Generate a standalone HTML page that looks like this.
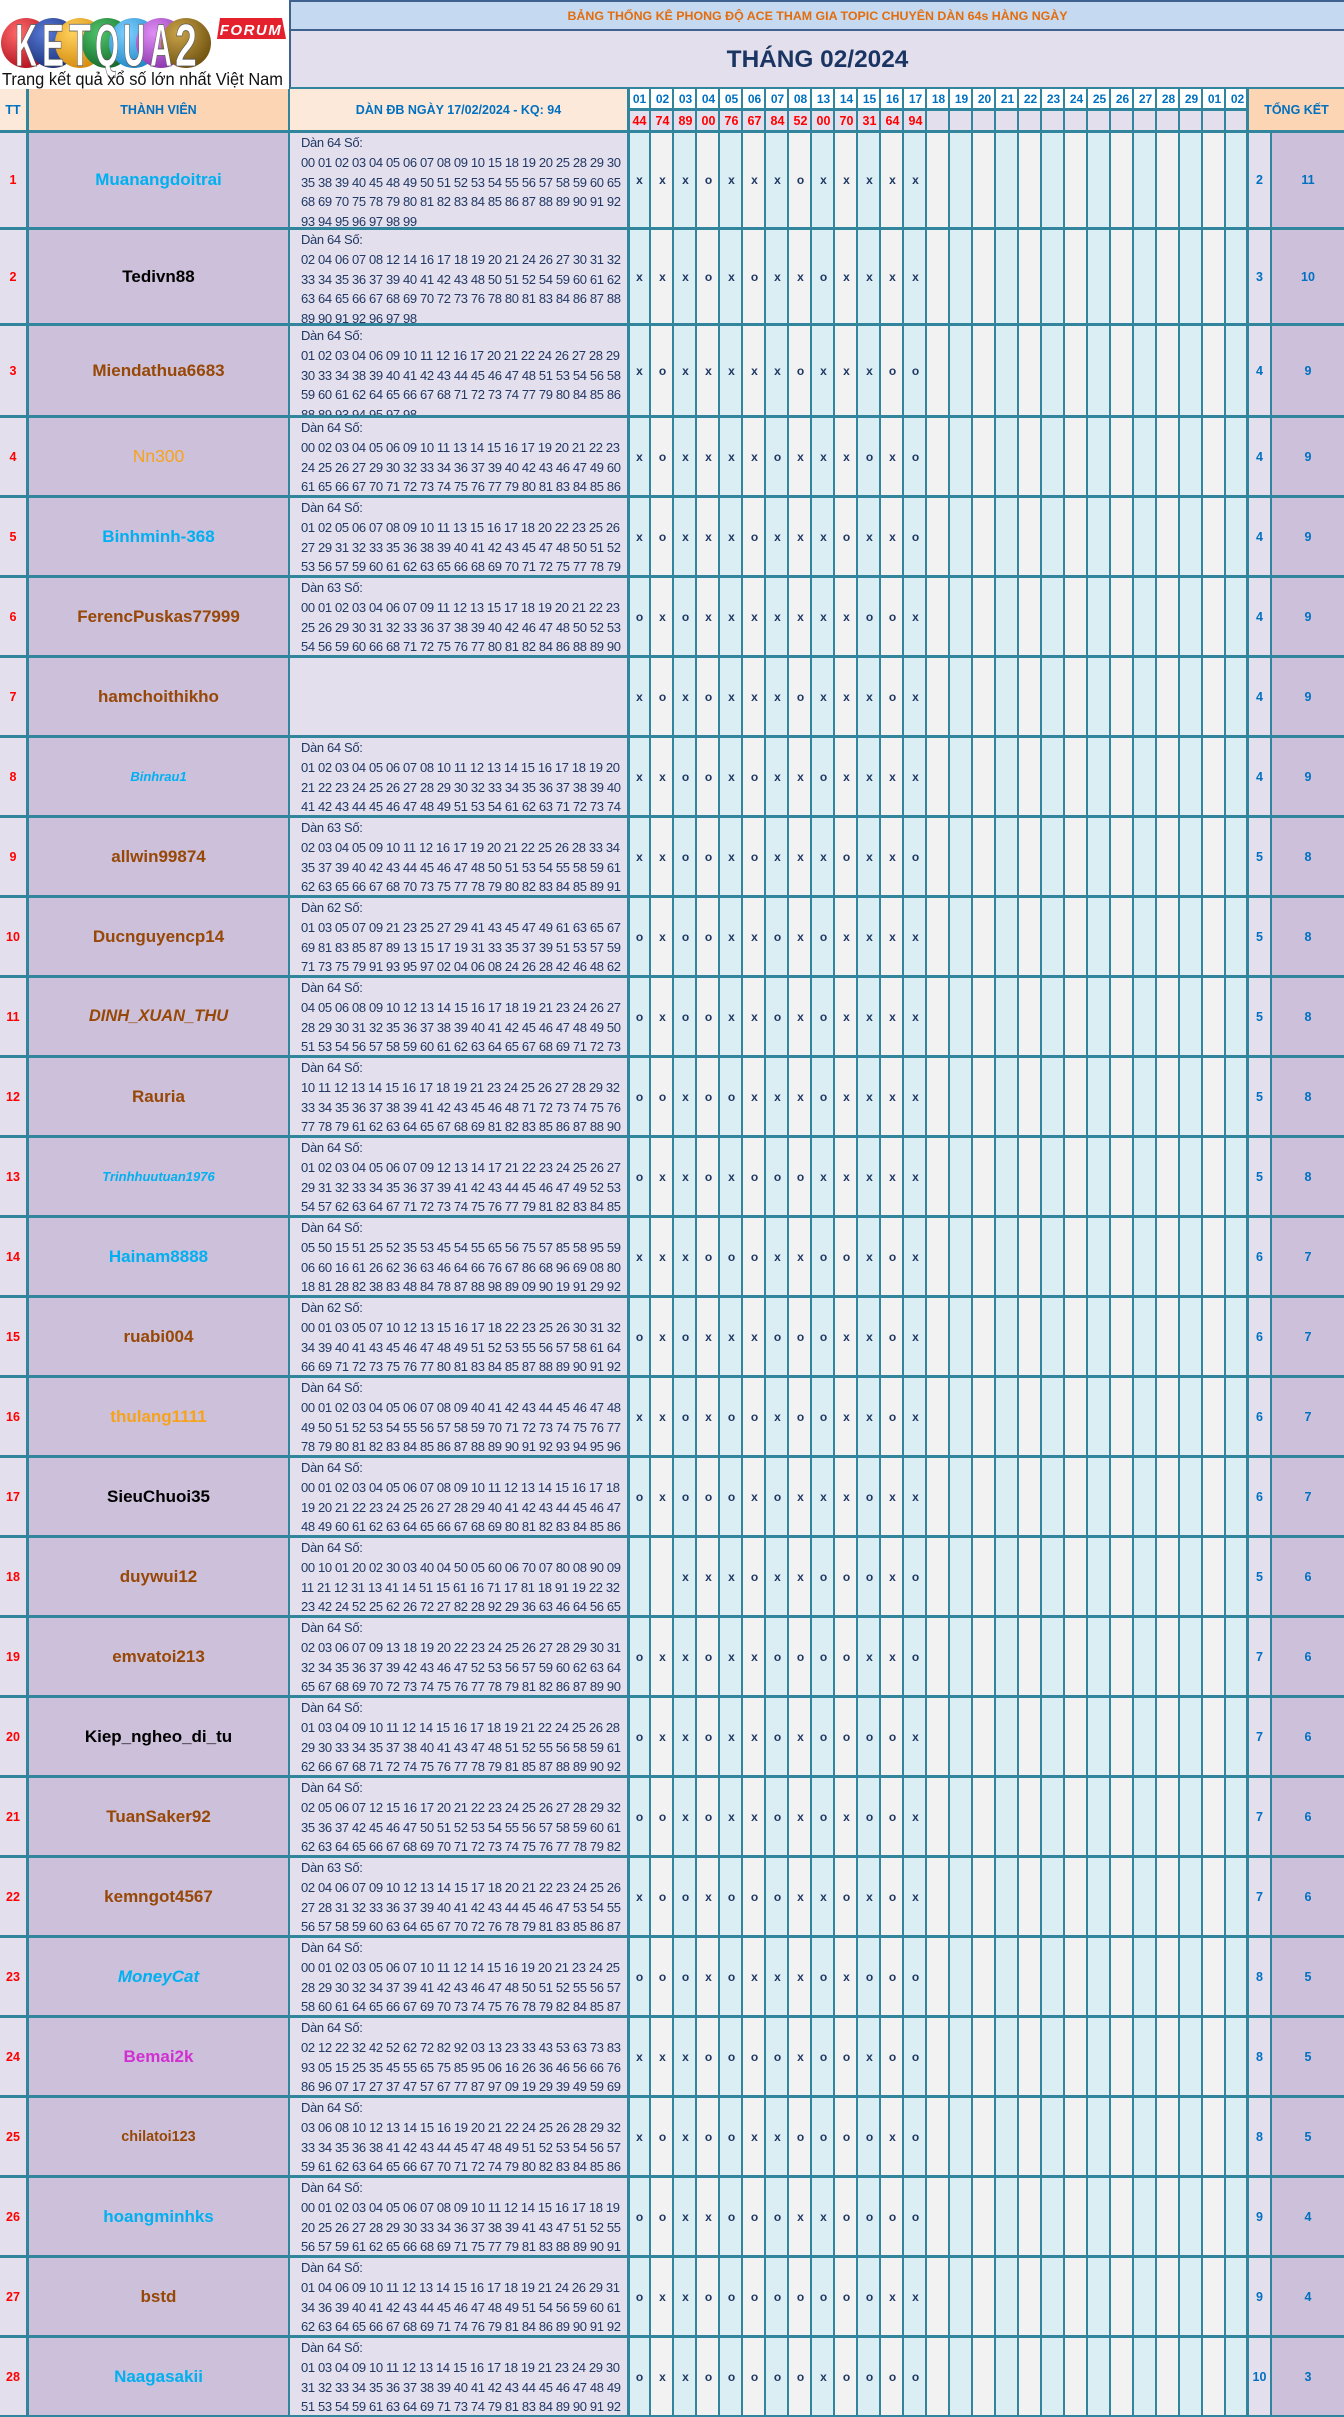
<!DOCTYPE html>
<html style="margin:0;width:1344px;height:2417px;overflow:hidden"><head><meta charset="utf-8">
<style>
*{box-sizing:border-box}
body{margin:0;width:1344px;height:2417px;position:relative;overflow:hidden;background:#fff;font-family:"Liberation Sans",sans-serif}
.a{position:absolute}
.h{position:absolute;left:0;width:1344px;height:3px;background:#31859C}
.v{position:absolute;top:88px;height:2329px;background:#31859C}
.r{position:absolute;left:0;width:1344px}
.r>div{position:absolute;top:0;height:100%;display:flex;align-items:center;justify-content:center;white-space:nowrap}
.t{left:0;width:26px;color:#f00;font-weight:bold;font-size:12.5px}
.n{left:29px;width:259px;font-weight:bold;font-size:17px}
.r>.d{left:301px;width:326px;display:block;font-size:13px;letter-spacing:-0.36px;line-height:19.75px;color:#1F3864;overflow:hidden}
.r>.m{left:628px;width:299px;justify-content:flex-start}
.m b{display:inline-block;width:23px;text-align:center;font-size:12px;color:#1F3864}
.c{left:1249px;width:21px;color:#0070C0;font-weight:bold;font-size:12.5px}
.k{left:1272px;width:72px;color:#0070C0;font-weight:bold;font-size:12.5px}
.B{color:#00B0F0}.W{color:#974706}.K{color:#000}.O{color:#F7A21B}
.hd{position:absolute;display:flex;align-items:center;justify-content:center;color:#0070C0;font-weight:bold;font-size:12.5px;white-space:nowrap}
.dy{position:absolute;left:628px;width:621px;display:flex;align-items:center}
.dy span{display:inline-block;width:23px;text-align:center;font-weight:bold;font-size:12px}
</style></head><body>

<!-- logo -->
<svg class="a" style="left:0;top:0" width="288" height="89" viewBox="0 0 288 89">
<defs>
<radialGradient id="g1" cx="35%" cy="30%" r="75%"><stop offset="0" stop-color="#ff6b6b"/><stop offset="1" stop-color="#b3101f"/></radialGradient>
<radialGradient id="g2" cx="35%" cy="30%" r="75%"><stop offset="0" stop-color="#5a7ad6"/><stop offset="1" stop-color="#16307a"/></radialGradient>
<radialGradient id="g3" cx="35%" cy="30%" r="75%"><stop offset="0" stop-color="#ffd25e"/><stop offset="1" stop-color="#d58a0c"/></radialGradient>
<radialGradient id="g4" cx="35%" cy="30%" r="75%"><stop offset="0" stop-color="#4fc46a"/><stop offset="1" stop-color="#136b2a"/></radialGradient>
<radialGradient id="g5" cx="35%" cy="30%" r="75%"><stop offset="0" stop-color="#7fd0ff"/><stop offset="1" stop-color="#1f86c6"/></radialGradient>
<radialGradient id="g6" cx="35%" cy="30%" r="75%"><stop offset="0" stop-color="#e08df5"/><stop offset="1" stop-color="#8b34ad"/></radialGradient>
<radialGradient id="g7" cx="35%" cy="30%" r="75%"><stop offset="0" stop-color="#c9a34a"/><stop offset="1" stop-color="#6f520f"/></radialGradient>
</defs>
<circle cx="26" cy="43" r="25" fill="url(#g1)"/>
<circle cx="53" cy="43" r="25" fill="url(#g2)"/>
<circle cx="80" cy="43" r="25" fill="url(#g3)"/>
<circle cx="107" cy="43" r="25" fill="url(#g4)"/>
<circle cx="134" cy="43" r="25" fill="url(#g5)"/>
<circle cx="161" cy="43" r="25" fill="url(#g6)"/>
<circle cx="186" cy="43" r="25" fill="url(#g7)"/>
<g font-family="Liberation Sans,sans-serif" font-weight="bold" font-size="60" fill="#fff" stroke="#555" stroke-width="0.8">
<text x="15" y="66" textLength="22" lengthAdjust="spacingAndGlyphs">K</text>
<text x="42" y="66" textLength="22" lengthAdjust="spacingAndGlyphs">E</text>
<text x="69" y="66" textLength="22" lengthAdjust="spacingAndGlyphs">T</text>
<text x="95" y="66" textLength="24" lengthAdjust="spacingAndGlyphs">Q</text>
<text x="123" y="66" textLength="22" lengthAdjust="spacingAndGlyphs">U</text>
<text x="150" y="66" textLength="22" lengthAdjust="spacingAndGlyphs">A</text>
<text x="175" y="66" textLength="22" lengthAdjust="spacingAndGlyphs">2</text>
</g>
<polygon points="220,18 282,18 286,39 217,39" fill="#E3202C"/>
<text x="251" y="35" text-anchor="middle" font-family="Liberation Sans,sans-serif" font-weight="bold" font-style="italic" font-size="15" fill="#fff" letter-spacing="1.5">FORUM</text>
<text x="2" y="85" font-family="Liberation Sans,sans-serif" font-size="17.5" fill="#111" textLength="281" lengthAdjust="spacingAndGlyphs">Trang kết quả xổ số lớn nhất Việt Nam</text>
</svg>

<!-- title band -->
<div class="a" style="left:289px;top:0;width:1055px;height:31px;background:#C5D9F1;border:2px solid #3F6190;border-right:none;display:flex;align-items:center;justify-content:center;color:#E46C0A;font-weight:bold;font-size:12.4px;white-space:nowrap">BẢNG THỐNG KÊ PHONG ĐỘ ACE THAM GIA TOPIC CHUYÊN DÀN 64s HÀNG NGÀY</div>
<div class="a" style="left:289px;top:31px;width:1055px;height:58px;background:#E4DFEC;border-left:2px solid #3F6190;display:flex;align-items:center;justify-content:center;color:#1B3563;font-weight:bold;font-size:24.4px;white-space:nowrap">THÁNG 02/2024</div>

<!-- column backgrounds -->
<div class="a" style="left:0;top:131px;width:26px;height:2286px;background:#E4DFEC"></div>
<div class="a" style="left:29px;top:131px;width:259px;height:2286px;background:#CCC0DA"></div>
<div class="a" style="left:290px;top:131px;width:337px;height:2286px;background:#E4DFEC"></div>
<div class="a" style="left:628px;top:111px;width:621px;height:2306px;background:repeating-linear-gradient(90deg,#DAEEF3 0 21px,#31859C 21px 23px,#F2F2F2 23px 44px,#31859C 44px 46px)"></div>
<div class="a" style="left:1249px;top:131px;width:21px;height:2286px;background:#E4DFEC"></div>
<div class="a" style="left:1272px;top:131px;width:72px;height:2286px;background:#CCC0DA"></div>

<!-- header row -->
<div class="hd" style="left:0;top:89px;width:26px;height:41px;background:#FDE9D9">TT</div>
<div class="hd" style="left:29px;top:89px;width:259px;height:41px;background:#FCD5B4">THÀNH VIÊN</div>
<div class="hd" style="left:290px;top:89px;width:337px;height:41px;background:#FDE9D9">DÀN ĐB NGÀY 17/02/2024 - KQ: 94</div>
<div class="a" style="left:628px;top:89px;width:621px;height:19px;background:repeating-linear-gradient(90deg,#fff 0 21px,#31859C 21px 23px)"></div>
<div class="a" style="left:628px;top:111px;width:621px;height:19px;background:repeating-linear-gradient(90deg,#E4DFEC 0 21px,#31859C 21px 23px)"></div>
<div class="a" style="left:628px;top:108px;width:621px;height:3px;background:#31859C"></div>
<div class="a" style="left:290px;top:87px;width:1054px;height:2px;background:#31859C"></div>
<div class="dy" style="top:89px;height:19px;color:#0070C0"><span>01</span><span>02</span><span>03</span><span>04</span><span>05</span><span>06</span><span>07</span><span>08</span><span>13</span><span>14</span><span>15</span><span>16</span><span>17</span><span>18</span><span>19</span><span>20</span><span>21</span><span>22</span><span>23</span><span>24</span><span>25</span><span>26</span><span>27</span><span>28</span><span>29</span><span>01</span><span>02</span></div>
<div class="dy" style="top:111px;height:19px;color:#FF0000"><span style="font-size:12.5px">44</span><span style="font-size:12.5px">74</span><span style="font-size:12.5px">89</span><span style="font-size:12.5px">00</span><span style="font-size:12.5px">76</span><span style="font-size:12.5px">67</span><span style="font-size:12.5px">84</span><span style="font-size:12.5px">52</span><span style="font-size:12.5px">00</span><span style="font-size:12.5px">70</span><span style="font-size:12.5px">31</span><span style="font-size:12.5px">64</span><span style="font-size:12.5px">94</span></div>
<div class="hd" style="left:1249px;top:89px;width:95px;height:41px;background:#FCD5B4">TỔNG KẾT</div>

<!-- vertical thick lines -->
<div class="v" style="left:26px;width:3px;top:89px;height:2328px"></div>
<div class="v" style="left:288px;width:2px;top:89px;height:2328px"></div>
<div class="v" style="left:627px;width:3px"></div>
<div class="v" style="left:1246px;width:3px"></div>
<div class="v" style="left:1270px;width:2px;top:131px;height:2286px"></div>

<!-- horizontal lines -->
<div class="h" style="top:130px"></div>
<div class="h" style="top:227px"></div>
<div class="h" style="top:323px"></div>
<div class="h" style="top:415px"></div>
<div class="h" style="top:495px"></div>
<div class="h" style="top:575px"></div>
<div class="h" style="top:655px"></div>
<div class="h" style="top:735px"></div>
<div class="h" style="top:815px"></div>
<div class="h" style="top:895px"></div>
<div class="h" style="top:975px"></div>
<div class="h" style="top:1055px"></div>
<div class="h" style="top:1135px"></div>
<div class="h" style="top:1215px"></div>
<div class="h" style="top:1295px"></div>
<div class="h" style="top:1375px"></div>
<div class="h" style="top:1455px"></div>
<div class="h" style="top:1535px"></div>
<div class="h" style="top:1615px"></div>
<div class="h" style="top:1695px"></div>
<div class="h" style="top:1775px"></div>
<div class="h" style="top:1855px"></div>
<div class="h" style="top:1935px"></div>
<div class="h" style="top:2015px"></div>
<div class="h" style="top:2095px"></div>
<div class="h" style="top:2175px"></div>
<div class="h" style="top:2255px"></div>
<div class="h" style="top:2335px"></div>
<div class="h" style="top:2415px;height:2px"></div>

<!-- rows -->
<div class="r" style="top:133px;height:94px"><div class="t">1</div><div class="n B">Muanangdoitrai</div><div class="d">Dàn 64 Số:<br>00 01 02 03 04 05 06 07 08 09 10 15 18 19 20 25 28 29 30<br>35 38 39 40 45 48 49 50 51 52 53 54 55 56 57 58 59 60 65<br>68 69 70 75 78 79 80 81 82 83 84 85 86 87 88 89 90 91 92<br>93 94 95 96 97 98 99</div><div class="m"><b>x</b><b>x</b><b>x</b><b>o</b><b>x</b><b>x</b><b>x</b><b>o</b><b>x</b><b>x</b><b>x</b><b>x</b><b>x</b></div><div class="c">2</div><div class="k">11</div></div>

<div class="r" style="top:230px;height:93px"><div class="t">2</div><div class="n K">Tedivn88</div><div class="d">Dàn 64 Số:<br>02 04 06 07 08 12 14 16 17 18 19 20 21 24 26 27 30 31 32<br>33 34 35 36 37 39 40 41 42 43 48 50 51 52 54 59 60 61 62<br>63 64 65 66 67 68 69 70 72 73 76 78 80 81 83 84 86 87 88<br>89 90 91 92 96 97 98</div><div class="m"><b>x</b><b>x</b><b>x</b><b>o</b><b>x</b><b>o</b><b>x</b><b>x</b><b>o</b><b>x</b><b>x</b><b>x</b><b>x</b></div><div class="c">3</div><div class="k">10</div></div>

<div class="r" style="top:326px;height:89px"><div class="t">3</div><div class="n W">Miendathua6683</div><div class="d">Dàn 64 Số:<br>01 02 03 04 06 09 10 11 12 16 17 20 21 22 24 26 27 28 29<br>30 33 34 38 39 40 41 42 43 44 45 46 47 48 51 53 54 56 58<br>59 60 61 62 64 65 66 67 68 71 72 73 74 77 79 80 84 85 86<br>88 89 93 94 95 97 98</div><div class="m"><b>x</b><b>o</b><b>x</b><b>x</b><b>x</b><b>x</b><b>x</b><b>o</b><b>x</b><b>x</b><b>x</b><b>o</b><b>o</b></div><div class="c">4</div><div class="k">9</div></div>

<div class="r" style="top:418px;height:77px"><div class="t">4</div><div class="n O" style="font-weight:normal;font-size:17.5px">Nn300</div><div class="d">Dàn 64 Số:<br>00 02 03 04 05 06 09 10 11 13 14 15 16 17 19 20 21 22 23<br>24 25 26 27 29 30 32 33 34 36 37 39 40 42 43 46 47 49 60<br>61 65 66 67 70 71 72 73 74 75 76 77 79 80 81 83 84 85 86</div><div class="m"><b>x</b><b>o</b><b>x</b><b>x</b><b>x</b><b>x</b><b>o</b><b>x</b><b>x</b><b>x</b><b>o</b><b>x</b><b>o</b></div><div class="c">4</div><div class="k">9</div></div>

<div class="r" style="top:498px;height:77px"><div class="t">5</div><div class="n B">Binhminh-368</div><div class="d">Dàn 64 Số:<br>01 02 05 06 07 08 09 10 11 13 15 16 17 18 20 22 23 25 26<br>27 29 31 32 33 35 36 38 39 40 41 42 43 45 47 48 50 51 52<br>53 56 57 59 60 61 62 63 65 66 68 69 70 71 72 75 77 78 79</div><div class="m"><b>x</b><b>o</b><b>x</b><b>x</b><b>x</b><b>o</b><b>x</b><b>x</b><b>x</b><b>o</b><b>x</b><b>x</b><b>o</b></div><div class="c">4</div><div class="k">9</div></div>

<div class="r" style="top:578px;height:77px"><div class="t">6</div><div class="n W">FerencPuskas77999</div><div class="d">Dàn 63 Số:<br>00 01 02 03 04 06 07 09 11 12 13 15 17 18 19 20 21 22 23<br>25 26 29 30 31 32 33 36 37 38 39 40 42 46 47 48 50 52 53<br>54 56 59 60 66 68 71 72 75 76 77 80 81 82 84 86 88 89 90</div><div class="m"><b>o</b><b>x</b><b>o</b><b>x</b><b>x</b><b>x</b><b>x</b><b>x</b><b>x</b><b>x</b><b>o</b><b>o</b><b>x</b></div><div class="c">4</div><div class="k">9</div></div>

<div class="r" style="top:658px;height:77px"><div class="t">7</div><div class="n W">hamchoithikho</div><div class="d"></div><div class="m"><b>x</b><b>o</b><b>x</b><b>o</b><b>x</b><b>x</b><b>x</b><b>o</b><b>x</b><b>x</b><b>x</b><b>o</b><b>x</b></div><div class="c">4</div><div class="k">9</div></div>

<div class="r" style="top:738px;height:77px"><div class="t">8</div><div class="n B" style="font-style:italic;font-size:13px">Binhrau1</div><div class="d">Dàn 64 Số:<br>01 02 03 04 05 06 07 08 10 11 12 13 14 15 16 17 18 19 20<br>21 22 23 24 25 26 27 28 29 30 32 33 34 35 36 37 38 39 40<br>41 42 43 44 45 46 47 48 49 51 53 54 61 62 63 71 72 73 74</div><div class="m"><b>x</b><b>x</b><b>o</b><b>o</b><b>x</b><b>o</b><b>x</b><b>x</b><b>o</b><b>x</b><b>x</b><b>x</b><b>x</b></div><div class="c">4</div><div class="k">9</div></div>

<div class="r" style="top:818px;height:77px"><div class="t">9</div><div class="n W">allwin99874</div><div class="d">Dàn 63 Số:<br>02 03 04 05 09 10 11 12 16 17 19 20 21 22 25 26 28 33 34<br>35 37 39 40 42 43 44 45 46 47 48 50 51 53 54 55 58 59 61<br>62 63 65 66 67 68 70 73 75 77 78 79 80 82 83 84 85 89 91</div><div class="m"><b>x</b><b>x</b><b>o</b><b>o</b><b>x</b><b>o</b><b>x</b><b>x</b><b>x</b><b>o</b><b>x</b><b>x</b><b>o</b></div><div class="c">5</div><div class="k">8</div></div>

<div class="r" style="top:898px;height:77px"><div class="t">10</div><div class="n W">Ducnguyencp14</div><div class="d">Dàn 62 Số:<br>01 03 05 07 09 21 23 25 27 29 41 43 45 47 49 61 63 65 67<br>69 81 83 85 87 89 13 15 17 19 31 33 35 37 39 51 53 57 59<br>71 73 75 79 91 93 95 97 02 04 06 08 24 26 28 42 46 48 62</div><div class="m"><b>o</b><b>x</b><b>o</b><b>o</b><b>x</b><b>x</b><b>o</b><b>x</b><b>o</b><b>x</b><b>x</b><b>x</b><b>x</b></div><div class="c">5</div><div class="k">8</div></div>

<div class="r" style="top:978px;height:77px"><div class="t">11</div><div class="n W" style="font-style:italic;font-size:16.5px">DINH_XUAN_THU</div><div class="d">Dàn 64 Số:<br>04 05 06 08 09 10 12 13 14 15 16 17 18 19 21 23 24 26 27<br>28 29 30 31 32 35 36 37 38 39 40 41 42 45 46 47 48 49 50<br>51 53 54 56 57 58 59 60 61 62 63 64 65 67 68 69 71 72 73</div><div class="m"><b>o</b><b>x</b><b>o</b><b>o</b><b>x</b><b>x</b><b>o</b><b>x</b><b>o</b><b>x</b><b>x</b><b>x</b><b>x</b></div><div class="c">5</div><div class="k">8</div></div>

<div class="r" style="top:1058px;height:77px"><div class="t">12</div><div class="n W">Rauria</div><div class="d">Dàn 64 Số:<br>10 11 12 13 14 15 16 17 18 19 21 23 24 25 26 27 28 29 32<br>33 34 35 36 37 38 39 41 42 43 45 46 48 71 72 73 74 75 76<br>77 78 79 61 62 63 64 65 67 68 69 81 82 83 85 86 87 88 90</div><div class="m"><b>o</b><b>o</b><b>x</b><b>o</b><b>o</b><b>x</b><b>x</b><b>x</b><b>o</b><b>x</b><b>x</b><b>x</b><b>x</b></div><div class="c">5</div><div class="k">8</div></div>

<div class="r" style="top:1138px;height:77px"><div class="t">13</div><div class="n B" style="font-style:italic;font-size:13px">Trinhhuutuan1976</div><div class="d">Dàn 64 Số:<br>01 02 03 04 05 06 07 09 12 13 14 17 21 22 23 24 25 26 27<br>29 31 32 33 34 35 36 37 39 41 42 43 44 45 46 47 49 52 53<br>54 57 62 63 64 67 71 72 73 74 75 76 77 79 81 82 83 84 85</div><div class="m"><b>o</b><b>x</b><b>x</b><b>o</b><b>x</b><b>o</b><b>o</b><b>o</b><b>x</b><b>x</b><b>x</b><b>x</b><b>x</b></div><div class="c">5</div><div class="k">8</div></div>

<div class="r" style="top:1218px;height:77px"><div class="t">14</div><div class="n B">Hainam8888</div><div class="d">Dàn 64 Số:<br>05 50 15 51 25 52 35 53 45 54 55 65 56 75 57 85 58 95 59<br>06 60 16 61 26 62 36 63 46 64 66 76 67 86 68 96 69 08 80<br>18 81 28 82 38 83 48 84 78 87 88 98 89 09 90 19 91 29 92</div><div class="m"><b>x</b><b>x</b><b>x</b><b>o</b><b>o</b><b>o</b><b>x</b><b>x</b><b>o</b><b>o</b><b>x</b><b>o</b><b>x</b></div><div class="c">6</div><div class="k">7</div></div>

<div class="r" style="top:1298px;height:77px"><div class="t">15</div><div class="n W">ruabi004</div><div class="d">Dàn 62 Số:<br>00 01 03 05 07 10 12 13 15 16 17 18 22 23 25 26 30 31 32<br>34 39 40 41 43 45 46 47 48 49 51 52 53 55 56 57 58 61 64<br>66 69 71 72 73 75 76 77 80 81 83 84 85 87 88 89 90 91 92</div><div class="m"><b>o</b><b>x</b><b>o</b><b>x</b><b>x</b><b>x</b><b>o</b><b>o</b><b>o</b><b>x</b><b>x</b><b>o</b><b>x</b></div><div class="c">6</div><div class="k">7</div></div>

<div class="r" style="top:1378px;height:77px"><div class="t">16</div><div class="n O">thulang1111</div><div class="d">Dàn 64 Số:<br>00 01 02 03 04 05 06 07 08 09 40 41 42 43 44 45 46 47 48<br>49 50 51 52 53 54 55 56 57 58 59 70 71 72 73 74 75 76 77<br>78 79 80 81 82 83 84 85 86 87 88 89 90 91 92 93 94 95 96</div><div class="m"><b>x</b><b>x</b><b>o</b><b>x</b><b>o</b><b>o</b><b>x</b><b>o</b><b>o</b><b>x</b><b>x</b><b>o</b><b>x</b></div><div class="c">6</div><div class="k">7</div></div>

<div class="r" style="top:1458px;height:77px"><div class="t">17</div><div class="n K">SieuChuoi35</div><div class="d">Dàn 64 Số:<br>00 01 02 03 04 05 06 07 08 09 10 11 12 13 14 15 16 17 18<br>19 20 21 22 23 24 25 26 27 28 29 40 41 42 43 44 45 46 47<br>48 49 60 61 62 63 64 65 66 67 68 69 80 81 82 83 84 85 86</div><div class="m"><b>o</b><b>x</b><b>o</b><b>o</b><b>o</b><b>x</b><b>o</b><b>x</b><b>x</b><b>x</b><b>o</b><b>x</b><b>x</b></div><div class="c">6</div><div class="k">7</div></div>

<div class="r" style="top:1538px;height:77px"><div class="t">18</div><div class="n W">duywui12</div><div class="d">Dàn 64 Số:<br>00 10 01 20 02 30 03 40 04 50 05 60 06 70 07 80 08 90 09<br>11 21 12 31 13 41 14 51 15 61 16 71 17 81 18 91 19 22 32<br>23 42 24 52 25 62 26 72 27 82 28 92 29 36 63 46 64 56 65</div><div class="m"><b></b><b></b><b>x</b><b>x</b><b>x</b><b>o</b><b>x</b><b>x</b><b>o</b><b>o</b><b>o</b><b>x</b><b>o</b></div><div class="c">5</div><div class="k">6</div></div>

<div class="r" style="top:1618px;height:77px"><div class="t">19</div><div class="n W">emvatoi213</div><div class="d">Dàn 64 Số:<br>02 03 06 07 09 13 18 19 20 22 23 24 25 26 27 28 29 30 31<br>32 34 35 36 37 39 42 43 46 47 52 53 56 57 59 60 62 63 64<br>65 67 68 69 70 72 73 74 75 76 77 78 79 81 82 86 87 89 90</div><div class="m"><b>o</b><b>x</b><b>x</b><b>o</b><b>x</b><b>x</b><b>o</b><b>o</b><b>o</b><b>o</b><b>x</b><b>x</b><b>o</b></div><div class="c">7</div><div class="k">6</div></div>

<div class="r" style="top:1698px;height:77px"><div class="t">20</div><div class="n K">Kiep_ngheo_di_tu</div><div class="d">Dàn 64 Số:<br>01 03 04 09 10 11 12 14 15 16 17 18 19 21 22 24 25 26 28<br>29 30 33 34 35 37 38 40 41 43 47 48 51 52 55 56 58 59 61<br>62 66 67 68 71 72 74 75 76 77 78 79 81 85 87 88 89 90 92</div><div class="m"><b>o</b><b>x</b><b>x</b><b>o</b><b>x</b><b>x</b><b>o</b><b>x</b><b>o</b><b>o</b><b>o</b><b>o</b><b>x</b></div><div class="c">7</div><div class="k">6</div></div>

<div class="r" style="top:1778px;height:77px"><div class="t">21</div><div class="n W">TuanSaker92</div><div class="d">Dàn 64 Số:<br>02 05 06 07 12 15 16 17 20 21 22 23 24 25 26 27 28 29 32<br>35 36 37 42 45 46 47 50 51 52 53 54 55 56 57 58 59 60 61<br>62 63 64 65 66 67 68 69 70 71 72 73 74 75 76 77 78 79 82</div><div class="m"><b>o</b><b>o</b><b>x</b><b>o</b><b>x</b><b>x</b><b>o</b><b>x</b><b>o</b><b>x</b><b>o</b><b>o</b><b>x</b></div><div class="c">7</div><div class="k">6</div></div>

<div class="r" style="top:1858px;height:77px"><div class="t">22</div><div class="n W">kemngot4567</div><div class="d">Dàn 63 Số:<br>02 04 06 07 09 10 12 13 14 15 17 18 20 21 22 23 24 25 26<br>27 28 31 32 33 36 37 39 40 41 42 43 44 45 46 47 53 54 55<br>56 57 58 59 60 63 64 65 67 70 72 76 78 79 81 83 85 86 87</div><div class="m"><b>x</b><b>o</b><b>o</b><b>x</b><b>o</b><b>o</b><b>o</b><b>x</b><b>x</b><b>o</b><b>x</b><b>o</b><b>x</b></div><div class="c">7</div><div class="k">6</div></div>

<div class="r" style="top:1938px;height:77px"><div class="t">23</div><div class="n B" style="font-style:italic">MoneyCat</div><div class="d">Dàn 64 Số:<br>00 01 02 03 05 06 07 10 11 12 14 15 16 19 20 21 23 24 25<br>28 29 30 32 34 37 39 41 42 43 46 47 48 50 51 52 55 56 57<br>58 60 61 64 65 66 67 69 70 73 74 75 76 78 79 82 84 85 87</div><div class="m"><b>o</b><b>o</b><b>o</b><b>x</b><b>o</b><b>x</b><b>x</b><b>x</b><b>o</b><b>x</b><b>o</b><b>o</b><b>o</b></div><div class="c">8</div><div class="k">5</div></div>

<div class="r" style="top:2018px;height:77px"><div class="t">24</div><div class="n" style="color:#D12FD1">Bemai2k</div><div class="d">Dàn 64 Số:<br>02 12 22 32 42 52 62 72 82 92 03 13 23 33 43 53 63 73 83<br>93 05 15 25 35 45 55 65 75 85 95 06 16 26 36 46 56 66 76<br>86 96 07 17 27 37 47 57 67 77 87 97 09 19 29 39 49 59 69</div><div class="m"><b>x</b><b>x</b><b>x</b><b>o</b><b>o</b><b>o</b><b>o</b><b>x</b><b>o</b><b>o</b><b>x</b><b>o</b><b>o</b></div><div class="c">8</div><div class="k">5</div></div>

<div class="r" style="top:2098px;height:77px"><div class="t">25</div><div class="n W" style="font-size:14.4px">chilatoi123</div><div class="d">Dàn 64 Số:<br>03 06 08 10 12 13 14 15 16 19 20 21 22 24 25 26 28 29 32<br>33 34 35 36 38 41 42 43 44 45 47 48 49 51 52 53 54 56 57<br>59 61 62 63 64 65 66 67 70 71 72 74 79 80 82 83 84 85 86</div><div class="m"><b>x</b><b>o</b><b>x</b><b>o</b><b>o</b><b>x</b><b>x</b><b>o</b><b>o</b><b>o</b><b>o</b><b>x</b><b>o</b></div><div class="c">8</div><div class="k">5</div></div>

<div class="r" style="top:2178px;height:77px"><div class="t">26</div><div class="n B">hoangminhks</div><div class="d">Dàn 64 Số:<br>00 01 02 03 04 05 06 07 08 09 10 11 12 14 15 16 17 18 19<br>20 25 26 27 28 29 30 33 34 36 37 38 39 41 43 47 51 52 55<br>56 57 59 61 62 65 66 68 69 71 75 77 79 81 83 88 89 90 91</div><div class="m"><b>o</b><b>o</b><b>x</b><b>x</b><b>o</b><b>o</b><b>o</b><b>x</b><b>x</b><b>o</b><b>o</b><b>o</b><b>o</b></div><div class="c">9</div><div class="k">4</div></div>

<div class="r" style="top:2258px;height:77px"><div class="t">27</div><div class="n W">bstd</div><div class="d">Dàn 64 Số:<br>01 04 06 09 10 11 12 13 14 15 16 17 18 19 21 24 26 29 31<br>34 36 39 40 41 42 43 44 45 46 47 48 49 51 54 56 59 60 61<br>62 63 64 65 66 67 68 69 71 74 76 79 81 84 86 89 90 91 92</div><div class="m"><b>o</b><b>x</b><b>x</b><b>o</b><b>o</b><b>o</b><b>o</b><b>o</b><b>o</b><b>o</b><b>o</b><b>x</b><b>x</b></div><div class="c">9</div><div class="k">4</div></div>

<div class="r" style="top:2338px;height:77px"><div class="t">28</div><div class="n B">Naagasakii</div><div class="d">Dàn 64 Số:<br>01 03 04 09 10 11 12 13 14 15 16 17 18 19 21 23 24 29 30<br>31 32 33 34 35 36 37 38 39 40 41 42 43 44 45 46 47 48 49<br>51 53 54 59 61 63 64 69 71 73 74 79 81 83 84 89 90 91 92</div><div class="m"><b>o</b><b>x</b><b>x</b><b>o</b><b>o</b><b>o</b><b>o</b><b>o</b><b>x</b><b>o</b><b>o</b><b>o</b><b>o</b></div><div class="c">10</div><div class="k">3</div></div>

</body></html>
